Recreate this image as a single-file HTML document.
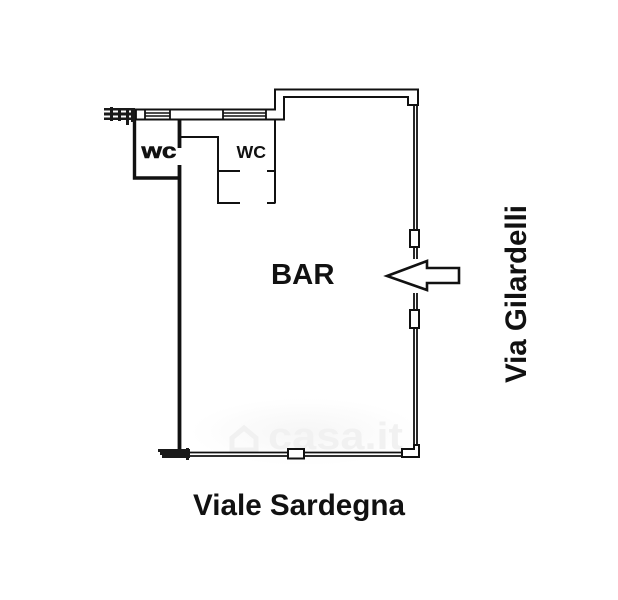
<!DOCTYPE html>
<html><head><meta charset="utf-8"><style>
html,body{margin:0;padding:0;background:#fff;width:618px;height:600px;overflow:hidden}
svg{display:block}
text{font-family:"Liberation Sans",sans-serif;font-weight:bold;fill:#111}
</style></head><body>
<svg width="618" height="600" viewBox="0 0 618 600" xmlns="http://www.w3.org/2000/svg">
<defs><radialGradient id="g"><stop offset="0" stop-color="#f6f6f6"/><stop offset="1" stop-color="#fff"/></radialGradient></defs>
<rect width="618" height="600" fill="#fff"/>
<ellipse cx="305" cy="432" rx="115" ry="34" fill="url(#g)"/>
<text x="268" y="449" font-size="38" style="fill:#f1f1f1" textLength="135" lengthAdjust="spacingAndGlyphs">casa.it</text>
<path d="M232 438l12-10 12 10v12h-24z" fill="none" stroke="#f1f1f1" stroke-width="5"/>
<g fill="none" stroke="#111" stroke-width="2">
<path d="M135 109.500H275V89.500H418V105H408V97H284V119.500H135Z"/>
<path d="M145 110V119M170 110V119M223 110V119M266 110V119M136 110V119" stroke-width="1.800"/>
<path d="M145 113H170M145 116H170M223 113H266M223 116H266" stroke-width="1.600"/>
</g>
<g stroke="#111" fill="none">
<path d="M134.500 119V178H179" stroke-width="3.400"/>
<path d="M179.500 119V148M179.500 165V451" stroke-width="3.800"/>
<path d="M181 137H218V203H240M218 171H240" stroke-width="2"/>
<path d="M267 171H275M267 203H275.500M275 119V203" stroke-width="2"/>
<path d="M414 105V230M417 105V230M414 247V259M417 247V259M414 293V310M417 293V310M414 328V446M417 328V446" stroke-width="1.800"/>
<path d="M188 452.500H402M188 456H402" stroke-width="1.700"/>
</g>
<g fill="#fff" stroke="#111" stroke-width="2">
<rect x="410" y="230" width="9" height="17"/>
<rect x="410" y="310" width="9" height="18"/>
<rect x="288" y="449" width="16" height="9.500"/>
<path d="M402 449H414V445H419V457H402Z"/>
<path d="M387 276L427 261V268H459V283H427V290Z" stroke-width="2.600"/>
</g>
<g fill="#1a1a1a">
<rect x="104" y="108" width="30" height="2.500"/><rect x="104" y="112.500" width="30" height="3"/><rect x="104" y="117.500" width="30" height="2.500"/>
<rect x="110" y="107" width="3" height="14"/><rect x="118" y="108" width="3" height="13"/><rect x="126" y="108" width="3" height="17"/><rect x="131" y="108" width="4" height="14"/>
<rect x="158" y="449" width="32" height="3"/><rect x="160" y="452" width="30" height="3"/><rect x="162" y="455" width="28" height="3"/>
<rect x="166" y="449" width="5" height="9"/><rect x="175" y="449" width="5" height="9"/><rect x="186" y="448" width="3" height="12"/>
</g>
<text x="141.500" y="158" font-size="21" textLength="35" lengthAdjust="spacingAndGlyphs" stroke="#111" stroke-width=".6">wc</text>
<text x="236.500" y="158" font-size="17.500" textLength="29.500" lengthAdjust="spacingAndGlyphs">WC</text>
<text x="271" y="284" font-size="29" textLength="63.500" lengthAdjust="spacingAndGlyphs">BAR</text>
<text x="193" y="515" font-size="29.500" textLength="212" lengthAdjust="spacingAndGlyphs">Viale Sardegna</text>
<text transform="translate(526 383) rotate(-90)" font-size="29.300" textLength="178" lengthAdjust="spacingAndGlyphs">Via Gilardelli</text>
</svg>
</body></html>
